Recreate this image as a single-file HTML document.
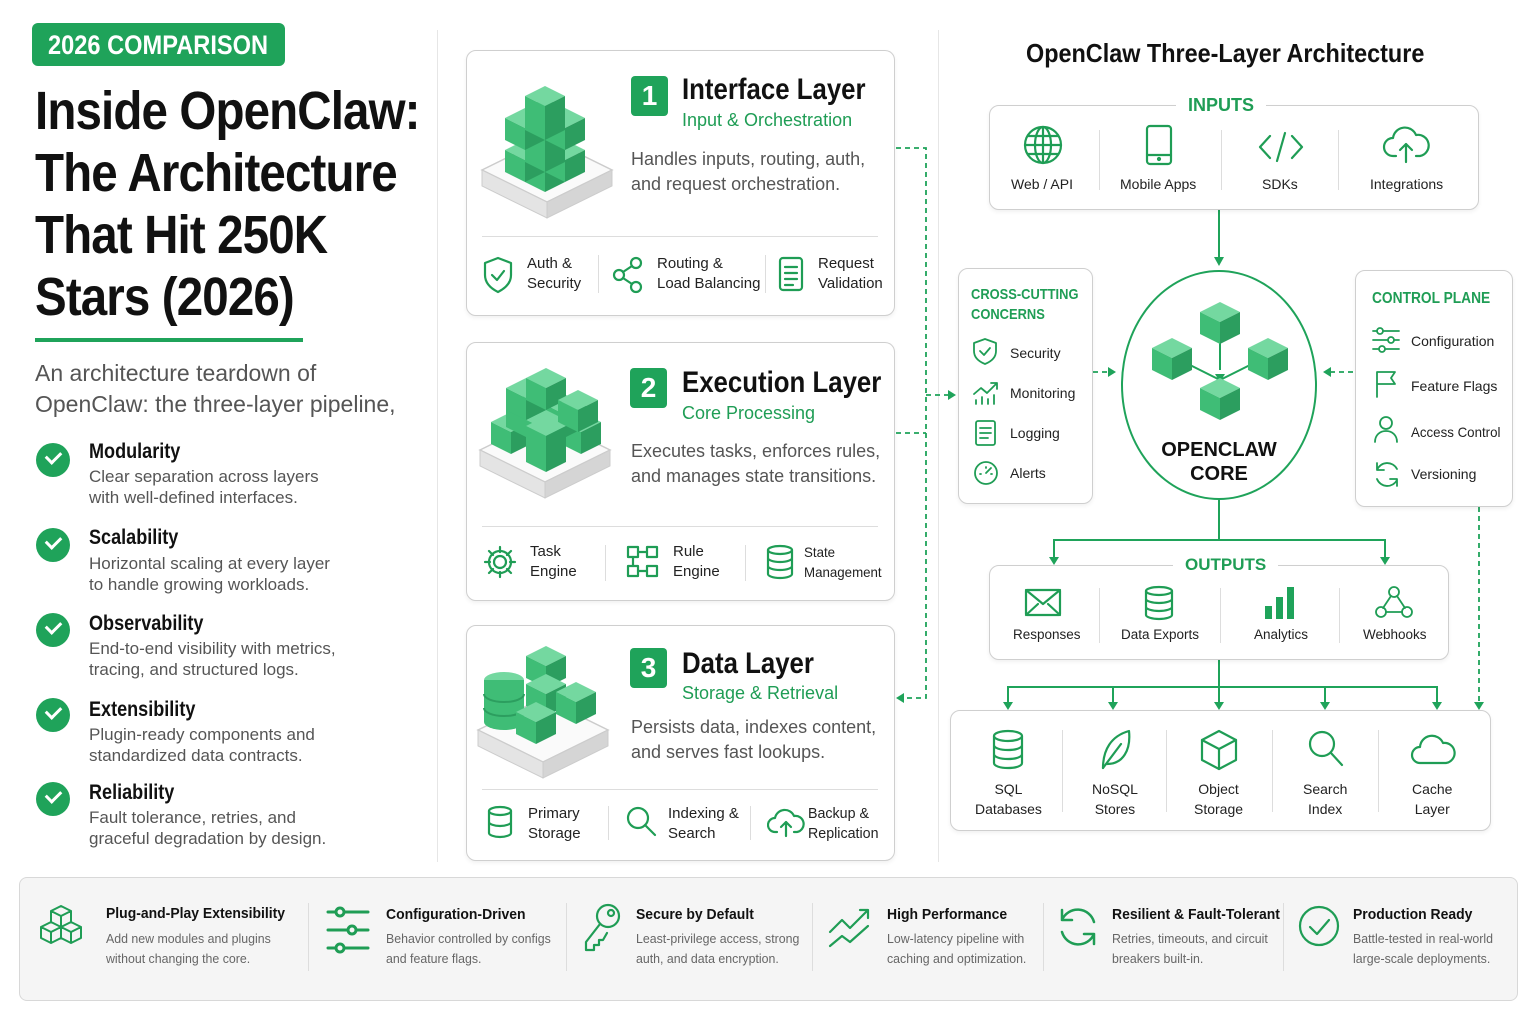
<!DOCTYPE html>
<html><head><meta charset="utf-8"><style>
*{margin:0;padding:0;box-sizing:border-box}
body{width:1536px;height:1024px;background:#fff;position:relative;overflow:hidden;font-family:"Liberation Sans",sans-serif;color:#111}
.t{position:absolute;white-space:nowrap}
.n{transform:scaleX(.86);transform-origin:0 0}
.g{color:#1f9d55}
.gr{color:#555}
.box{position:absolute;border:1.5px solid #cfcfcf;border-radius:10px;background:#fff;box-shadow:0 2px 4px rgba(0,0,0,.06)}
.ico{position:absolute;fill:none;stroke:#1f9d55;stroke-width:2.2;stroke-linecap:round;stroke-linejoin:round}
.sep{position:absolute;width:1px;background:#ddd}
.num{position:absolute;width:37px;height:40px;background:#1fa35a;border-radius:4px;color:#fff;font-weight:bold;font-size:28px;text-align:center;line-height:40px}
.ct{font-weight:bold;font-size:30px}
.cs{font-size:18px;color:#1f9d55}
.cd{font-size:18px;color:#555;line-height:25px}
.f{font-size:15px;color:#222;line-height:20px}
.chk{position:absolute;width:34px;height:34px;border-radius:50%;background:#1fa35a}
.chk:after{content:"";position:absolute;left:10px;top:8px;width:12px;height:7px;border-left:3.5px solid #fff;border-bottom:3.5px solid #fff;transform:rotate(-45deg)}
.kt{font-weight:bold;font-size:21px}
.kd{font-size:17px;color:#555;line-height:21px}
.sm{font-size:14px;color:#222}
.bt{font-weight:bold;font-size:15px;transform:scaleX(.93);transform-origin:0 0}
.bd{font-size:13px;color:#666;line-height:20px;transform:scaleX(.95);transform-origin:0 0}
</style></head><body>

<svg width="0" height="0" style="position:absolute"><defs>
<g id="cube"><polygon points="0,0 20,-10 40,0 20,10" fill="#74d8a0"/><polygon points="0,0 20,10 20,32 0,22" fill="#3fbd76"/><polygon points="20,10 40,0 40,22 20,32" fill="#2c9e5f"/></g>
<g id="plat"><polygon points="0,40 65,8 130,40 65,72" fill="#fafafa" stroke="#ccc" stroke-width="1.5"/><polygon points="0,40 65,72 65,88 0,56" fill="#e4e4e4" stroke="#ccc"/><polygon points="65,72 130,40 130,56 65,88" fill="#d5d5d5" stroke="#ccc"/></g>
</defs></svg>

<!-- left column -->
<div style="position:absolute;left:32px;top:23px;width:253px;height:43px;background:#1fa35a;border-radius:6px"></div>
<div class="t n" style="left:48px;top:30px;color:#fff;font-weight:bold;font-size:27px;transform:scaleX(.875)">2026 COMPARISON</div>
<div class="t n" style="left:35px;top:80px;font-weight:bold;font-size:54px;line-height:62px;letter-spacing:-1px;transform:scaleX(.88)">Inside OpenClaw:<br>The Architecture<br>That Hit 250K<br>Stars (2026)</div>
<div style="position:absolute;left:35px;top:338px;width:268px;height:4px;background:#1fa35a"></div>
<div class="t gr" style="left:35px;top:358px;font-size:23px;line-height:31px">An architecture teardown of<br>OpenClaw: the three-layer pipeline,</div>

<div class="chk" style="left:36px;top:443px"></div>
<div class="t kt n" style="left:89px;top:440px">Modularity</div>
<div class="t kd" style="left:89px;top:466px">Clear separation across layers<br>with well-defined interfaces.</div>
<div class="chk" style="left:36px;top:528px"></div>
<div class="t kt n" style="left:89px;top:526px">Scalability</div>
<div class="t kd" style="left:89px;top:553px">Horizontal scaling at every layer<br>to handle growing workloads.</div>
<div class="chk" style="left:36px;top:613px"></div>
<div class="t kt n" style="left:89px;top:612px">Observability</div>
<div class="t kd" style="left:89px;top:638px">End-to-end visibility with metrics,<br>tracing, and structured logs.</div>
<div class="chk" style="left:36px;top:698px"></div>
<div class="t kt n" style="left:89px;top:698px">Extensibility</div>
<div class="t kd" style="left:89px;top:724px">Plugin-ready components and<br>standardized data contracts.</div>
<div class="chk" style="left:36px;top:782px"></div>
<div class="t kt n" style="left:89px;top:781px">Reliability</div>
<div class="t kd" style="left:89px;top:807px">Fault tolerance, retries, and<br>graceful degradation by design.</div>

<div class="sep" style="left:437px;top:30px;height:832px;background:#e6e6e6"></div>
<div class="sep" style="left:938px;top:30px;height:832px;background:#e6e6e6"></div>

<!-- Card 1 -->
<div class="box" style="left:466px;top:50px;width:429px;height:266px"></div>
<svg style="position:absolute;left:480px;top:80px" width="140" height="150">
<use href="#plat" x="2" y="50"/>
<use href="#cube" x="45" y="80"/><use href="#cube" x="25" y="70"/><use href="#cube" x="65" y="70"/><use href="#cube" x="45" y="60"/>
<use href="#cube" x="45" y="48"/><use href="#cube" x="25" y="38"/><use href="#cube" x="65" y="38"/><use href="#cube" x="45" y="28"/><use href="#cube" x="45" y="16"/>
</svg>
<div class="num" style="left:631px;top:76px">1</div>
<div class="t ct n" style="left:682px;top:73px">Interface Layer</div>
<div class="t cs" style="left:682px;top:110px">Input &amp; Orchestration</div>
<div class="t cd" style="left:631px;top:147px">Handles inputs, routing, auth,<br>and request orchestration.</div>
<div class="sep" style="left:482px;top:236px;width:396px;height:1px"></div>
<svg class="ico" style="left:482px;top:255px" width="32" height="40"><path d="M16 3 L29 8 V20 C29 29 22 34 16 37 C10 34 3 29 3 20 V8Z"/><path d="M10 20 L15 25 L22 16"/></svg>
<div class="t f" style="left:527px;top:254px">Auth &amp;<br>Security</div>
<div class="sep" style="left:598px;top:255px;height:38px"></div>
<svg class="ico" style="left:612px;top:255px" width="34" height="40"><circle cx="7" cy="20" r="5"/><circle cx="24" cy="8" r="5"/><circle cx="24" cy="32" r="5"/><path d="M11 17 L20 11 M11 23 L20 29"/></svg>
<div class="t f" style="left:657px;top:254px">Routing &amp;<br>Load Balancing</div>
<div class="sep" style="left:765px;top:255px;height:38px"></div>
<svg class="ico" style="left:777px;top:255px" width="30" height="40"><rect x="3" y="3" width="22" height="32" rx="3"/><path d="M8 12h12M8 18h12M8 24h12M8 30h8"/></svg>
<div class="t f" style="left:818px;top:254px">Request<br>Validation</div>

<!-- Card 2 -->
<div class="box" style="left:466px;top:342px;width:429px;height:259px"></div>
<svg style="position:absolute;left:476px;top:360px" width="145" height="150">
<use href="#plat" x="4" y="50"/>
<use href="#cube" x="50" y="80"/><use href="#cube" x="15" y="62"/><use href="#cube" x="85" y="62"/><use href="#cube" x="30" y="45"/><use href="#cube" x="70" y="45"/><use href="#cube" x="50" y="60"/>
<use href="#cube" x="30" y="28"/><use href="#cube" x="50" y="18"/><use href="#cube" x="82" y="40"/><use href="#cube" x="50" y="66"/>
</svg>
<div class="num" style="left:630px;top:368px">2</div>
<div class="t ct n" style="left:682px;top:366px">Execution Layer</div>
<div class="t cs" style="left:682px;top:403px">Core Processing</div>
<div class="t cd" style="left:631px;top:439px">Executes tasks, enforces rules,<br>and manages state transitions.</div>
<div class="sep" style="left:482px;top:526px;width:396px;height:1px"></div>
<svg class="ico" style="left:482px;top:544px" width="36" height="36"><circle cx="18" cy="18" r="6"/><path d="M18 3v5M18 28v5M3 18h5M28 18h5M7 7l4 4M25 25l4 4M29 7l-4 4M7 29l4-4"/><circle cx="18" cy="18" r="11"/></svg>
<div class="t f" style="left:530px;top:542px">Task<br>Engine</div>
<div class="sep" style="left:605px;top:545px;height:36px"></div>
<svg class="ico" style="left:625px;top:544px" width="36" height="36"><rect x="3" y="3" width="10" height="10"/><rect x="22" y="3" width="10" height="10"/><rect x="3" y="22" width="10" height="10"/><rect x="22" y="22" width="10" height="10"/><path d="M13 8h9M8 13v9M13 27h9"/></svg>
<div class="t f" style="left:673px;top:542px">Rule<br>Engine</div>
<div class="sep" style="left:745px;top:545px;height:36px"></div>
<svg class="ico" style="left:764px;top:543px" width="32" height="38"><ellipse cx="16" cy="7" rx="12" ry="4"/><path d="M4 7v24c0 2 5 4 12 4s12-2 12-4V7M4 15c0 2 5 4 12 4s12-2 12-4M4 23c0 2 5 4 12 4s12-2 12-4"/></svg>
<div class="t f" style="left:804px;top:542px;font-size:14px;transform:scaleX(.95);transform-origin:0 0">State<br>Management</div>

<!-- Card 3 -->
<div class="box" style="left:466px;top:625px;width:429px;height:236px"></div>
<svg style="position:absolute;left:476px;top:640px" width="145" height="150">
<use href="#plat" x="2" y="50"/>
<ellipse cx="28" cy="40" rx="20" ry="8" fill="#74d8a0"/><rect x="8" y="40" width="40" height="42" fill="#3fbd76"/><ellipse cx="28" cy="82" rx="20" ry="8" fill="#3fbd76"/><path d="M8 54a20 8 0 0 0 40 0M8 68a20 8 0 0 0 40 0" stroke="#2c9e5f" fill="none" stroke-width="2"/>
<use href="#cube" x="50" y="16"/><use href="#cube" x="50" y="44"/><use href="#cube" x="80" y="52"/><use href="#cube" x="40" y="72"/>
</svg>
<div class="num" style="left:630px;top:648px">3</div>
<div class="t ct n" style="left:682px;top:647px">Data Layer</div>
<div class="t cs" style="left:682px;top:683px">Storage &amp; Retrieval</div>
<div class="t cd" style="left:631px;top:715px">Persists data, indexes content,<br>and serves fast lookups.</div>
<div class="sep" style="left:482px;top:789px;width:396px;height:1px"></div>
<svg class="ico" style="left:485px;top:804px" width="30" height="36"><ellipse cx="15" cy="7" rx="11" ry="4"/><path d="M4 7v22c0 2 5 4 11 4s11-2 11-4V7M4 18c0 2 5 4 11 4s11-2 11-4"/></svg>
<div class="t f" style="left:528px;top:804px">Primary<br>Storage</div>
<div class="sep" style="left:608px;top:806px;height:34px"></div>
<svg class="ico" style="left:624px;top:804px" width="34" height="36"><circle cx="14" cy="14" r="10"/><path d="M21 21l10 10"/></svg>
<div class="t f" style="left:668px;top:804px">Indexing &amp;<br>Search</div>
<div class="sep" style="left:750px;top:806px;height:34px"></div>
<svg class="ico" style="left:767px;top:806px" width="38" height="34"><path d="M10 26H8a7 7 0 0 1 0-14 10 10 0 0 1 19-2 7 7 0 0 1 3 16h-3"/><path d="M19 30V16M14 21l5-5 5 5"/></svg>
<div class="t f" style="left:808px;top:804px;transform:scaleX(.95);transform-origin:0 0">Backup &amp;<br>Replication</div>

<!-- connectors -->
<svg style="position:absolute;left:0;top:0" width="1536" height="1024">
<g fill="none" stroke="#1fa35a" stroke-width="1.8" stroke-dasharray="5,4">
<path d="M896 148H926V698H903"/><path d="M896 433H926"/><path d="M926 395H950"/>
<path d="M1093 372H1110"/><path d="M1353 372H1330"/><path d="M1479 507V702"/>
</g>
<g fill="#1fa35a">
<path d="M956 395l-8-5v10z"/><path d="M896 698l8-5v10z"/><path d="M1116 372l-8-5v10z"/><path d="M1323 372l8-5v10z"/><path d="M1479 710l-5-8h10z"/>
</g>
<g fill="none" stroke="#1fa35a" stroke-width="2">
<path d="M1219 210V258"/><path d="M1219 500V540M1054 558V540H1385V558"/><path d="M1219 660V687M1008 703V687H1437V703M1113 687V703M1325 687V703M1219 687V703"/>
</g>
<g fill="#1fa35a">
<path d="M1219 266l-5-9h10z"/><path d="M1054 565l-5-8h10z"/><path d="M1385 565l-5-8h10z"/>
<path d="M1008 710l-5-8h10z"/><path d="M1113 710l-5-8h10z"/><path d="M1219 710l-5-8h10z"/><path d="M1325 710l-5-8h10z"/><path d="M1437 710l-5-8h10z"/>
</g>
</svg>

<!-- right -->
<div class="t n" style="left:1026px;top:38px;font-weight:bold;font-size:26px;transform:scaleX(.9)">OpenClaw Three-Layer Architecture</div>
<div class="box" style="left:989px;top:105px;width:490px;height:105px"></div>
<div class="t g" style="left:1176px;top:95px;font-weight:bold;font-size:18px;background:#fff;padding:0 12px">INPUTS</div>
<svg class="ico" style="left:1022px;top:124px" width="42" height="42"><circle cx="21" cy="21" r="18"/><ellipse cx="21" cy="21" rx="8" ry="18"/><path d="M3 21h36M6 12h30M6 30h30M21 3v36"/></svg>
<div class="t sm" style="left:1011px;top:176px">Web / API</div>
<div class="sep" style="left:1099px;top:130px;height:60px"></div>
<svg class="ico" style="left:1144px;top:124px" width="32" height="42"><rect x="3" y="2" width="24" height="38" rx="3"/><path d="M3 31h24"/><circle cx="15" cy="35" r="1"/></svg>
<div class="t sm" style="left:1120px;top:176px">Mobile Apps</div>
<div class="sep" style="left:1221px;top:130px;height:60px"></div>
<svg class="ico" style="left:1258px;top:130px" width="46" height="34"><path d="M12 6L2 17l10 11M34 6l10 11-10 11M27 3L19 31"/></svg>
<div class="t sm" style="left:1262px;top:176px">SDKs</div>
<div class="sep" style="left:1338px;top:130px;height:60px"></div>
<svg class="ico" style="left:1382px;top:126px" width="50" height="40"><path d="M14 30H11a9 9 0 0 1 0-18 12 12 0 0 1 23-3 9 9 0 0 1 4 21h-4"/><path d="M24 36V18M18 24l6-6 6 6"/></svg>
<div class="t sm" style="left:1370px;top:176px">Integrations</div>

<!-- core -->
<div style="position:absolute;left:1121px;top:270px;width:196px;height:230px;border:2.5px solid #1fa35a;border-radius:50%;background:#fff"></div>
<svg style="position:absolute;left:1140px;top:290px" width="160" height="150">
<g stroke="#1fa35a" stroke-width="2" fill="none"><path d="M80 50V80M50 75L80 90M110 75L80 90"/></g>
<path d="M80 92l-5-8h10z" fill="#1fa35a"/>
<use href="#cube" x="60" y="22"/><use href="#cube" x="12" y="58"/><use href="#cube" x="108" y="58"/><use href="#cube" x="60" y="98"/>
</svg>
<div class="t" style="left:1121px;top:438px;width:196px;text-align:center;font-weight:bold;font-size:20px;line-height:24px">OPENCLAW<br>CORE</div>

<!-- cross cutting -->
<div class="box" style="left:958px;top:268px;width:135px;height:236px"></div>
<div class="t g n" style="left:971px;top:285px;font-weight:bold;font-size:15px;line-height:20px">CROSS-CUTTING<br>CONCERNS</div>
<svg class="ico" style="left:972px;top:337px;stroke-width:1.8" width="28" height="30"><path d="M13 2L24 6V14C24 21 18 25 13 27 8 25 2 21 2 14V6Z"/><path d="M8 14l4 4 6-7"/></svg>
<div class="t sm" style="left:1010px;top:345px">Security</div>
<svg class="ico" style="left:972px;top:380px;stroke-width:1.8" width="28" height="26"><path d="M2 14l7-6 6 5 10-10M19 3h6v6M4 24v-4M10 24v-7M16 24v-5M22 24v-9"/></svg>
<div class="t sm" style="left:1010px;top:385px">Monitoring</div>
<svg class="ico" style="left:974px;top:419px;stroke-width:1.8" width="24" height="28"><rect x="2" y="2" width="19" height="24" rx="2"/><path d="M6 9h11M6 14h11M6 19h8"/></svg>
<div class="t sm" style="left:1010px;top:425px">Logging</div>
<svg class="ico" style="left:972px;top:459px;stroke-width:1.8" width="28" height="26"><circle cx="14" cy="14" r="11"/><path d="M14 14l5-5M8 15h1M19 15h1M14 8v1"/></svg>
<div class="t sm" style="left:1010px;top:465px">Alerts</div>

<!-- control plane -->
<div class="box" style="left:1355px;top:270px;width:158px;height:237px"></div>
<div class="t g n" style="left:1372px;top:290px;font-weight:bold;font-size:16px">CONTROL PLANE</div>
<svg class="ico" style="left:1371px;top:326px;stroke-width:1.8" width="30" height="28"><path d="M2 5h26M2 14h26M2 23h26"/><circle cx="9" cy="5" r="3" fill="#fff"/><circle cx="20" cy="14" r="3" fill="#fff"/><circle cx="11" cy="23" r="3" fill="#fff"/></svg>
<div class="t sm" style="left:1411px;top:333px">Configuration</div>
<svg class="ico" style="left:1373px;top:369px;stroke-width:1.8" width="28" height="30"><path d="M4 28V3h18l-4 6 4 6H4"/></svg>
<div class="t sm" style="left:1411px;top:378px">Feature Flags</div>
<svg class="ico" style="left:1373px;top:414px;stroke-width:1.8" width="28" height="30"><circle cx="13" cy="9" r="6"/><path d="M2 28c0-7 5-11 11-11s11 4 11 11"/></svg>
<div class="t sm" style="left:1411px;top:424px;transform:scaleX(.95);transform-origin:0 0">Access Control</div>
<svg class="ico" style="left:1372px;top:459px;stroke-width:1.8" width="30" height="30"><path d="M25 10A11 11 0 0 0 5 11M5 20a11 11 0 0 0 20 1M5 4v7h7M25 27v-7h-7"/></svg>
<div class="t sm" style="left:1411px;top:466px">Versioning</div>

<!-- outputs -->
<div class="box" style="left:989px;top:565px;width:460px;height:95px"></div>
<div class="t g" style="left:1173px;top:555px;font-weight:bold;font-size:17px;background:#fff;padding:0 12px">OUTPUTS</div>
<svg class="ico" style="left:1024px;top:587px" width="40" height="32"><rect x="2" y="3" width="34" height="25" rx="1"/><path d="M2 3l17 14 17-14M2 28l12-11M36 28L24 17"/></svg>
<div class="t sm" style="left:1013px;top:627px;font-size:13.5px">Responses</div>
<div class="sep" style="left:1099px;top:588px;height:55px"></div>
<svg class="ico" style="left:1143px;top:584px" width="34" height="38"><ellipse cx="16" cy="7" rx="13" ry="4"/><path d="M3 7v24c0 2 6 4 13 4s13-2 13-4V7M3 15c0 2 6 4 13 4s13-2 13-4M3 23c0 2 6 4 13 4s13-2 13-4"/></svg>
<div class="t sm" style="left:1121px;top:627px;font-size:13.5px">Data Exports</div>
<div class="sep" style="left:1220px;top:588px;height:55px"></div>
<svg style="position:absolute;left:1264px;top:586px" width="32" height="34"><rect x="1" y="20" width="7" height="13" fill="#1fa35a"/><rect x="12" y="11" width="7" height="22" fill="#1fa35a"/><rect x="23" y="1" width="7" height="32" fill="#1fa35a"/></svg>
<div class="t sm" style="left:1254px;top:627px;font-size:13.5px">Analytics</div>
<div class="sep" style="left:1339px;top:588px;height:55px"></div>
<svg class="ico" style="left:1374px;top:584px;stroke-width:1.8" width="40" height="36"><circle cx="20" cy="8" r="5"/><circle cx="7" cy="28" r="5"/><circle cx="33" cy="28" r="5"/><path d="M17 12l-8 12M23 12l8 12M12 28h16"/></svg>
<div class="t sm" style="left:1363px;top:627px;font-size:13.5px">Webhooks</div>

<!-- storage -->
<div class="box" style="left:950px;top:710px;width:541px;height:121px"></div>
<svg class="ico" style="left:991px;top:728px" width="36" height="44"><ellipse cx="17" cy="8" rx="14" ry="5"/><path d="M3 8v27c0 3 6 5 14 5s14-2 14-5V8M3 17c0 3 6 5 14 5s14-2 14-5M3 26c0 3 6 5 14 5s14-2 14-5"/></svg>
<div class="t sm" style="left:975px;top:779px;text-align:center;line-height:20px">SQL<br>Databases</div>
<div class="sep" style="left:1062px;top:730px;height:82px"></div>
<svg class="ico" style="left:1097px;top:728px" width="36" height="44"><path d="M6 40C6 22 14 8 32 3 34 22 26 36 10 36"/><path d="M6 40l18-24"/></svg>
<div class="t sm" style="left:1092px;top:779px;text-align:center;line-height:20px">NoSQL<br>Stores</div>
<div class="sep" style="left:1166px;top:730px;height:82px"></div>
<svg class="ico" style="left:1200px;top:728px" width="40" height="44"><path d="M19 3l17 9v20l-17 9-17-9V12z"/><path d="M2 12l17 9 17-9M19 21v20"/></svg>
<div class="t sm" style="left:1194px;top:779px;text-align:center;line-height:20px">Object<br>Storage</div>
<div class="sep" style="left:1272px;top:730px;height:82px"></div>
<svg class="ico" style="left:1306px;top:728px" width="40" height="44"><circle cx="16" cy="16" r="12"/><path d="M25 25l11 12"/></svg>
<div class="t sm" style="left:1303px;top:779px;text-align:center;line-height:20px">Search<br>Index</div>
<div class="sep" style="left:1378px;top:730px;height:82px"></div>
<svg class="ico" style="left:1410px;top:730px" width="48" height="38"><path d="M12 33H10a8 8 0 0 1 0-16 12 12 0 0 1 23-4 9 9 0 0 1 3 20z"/></svg>
<div class="t sm" style="left:1412px;top:779px;text-align:center;line-height:20px">Cache<br>Layer</div>

<!-- bottom strip -->
<div style="position:absolute;left:19px;top:877px;width:1499px;height:124px;background:#f5f5f5;border:1.5px solid #d8d8d8;border-radius:8px"></div>
<svg class="ico" style="left:40px;top:902px;stroke-width:2" width="56" height="58"><path d="M21 4l10 5v11l-10 5-10-5V9zM11 9l10 5 10-5M21 14v11M11 20l10 5v11l-10 5-10-5V25zM1 25l10 5 10-5M11 30v11M31 20l10 5v11l-10 5-10-5V25zM21 25l10 5 10-5M31 30v11"/></svg>
<div class="t bt" style="left:106px;top:905px">Plug-and-Play Extensibility</div>
<div class="t bd" style="left:106px;top:929px">Add new modules and plugins<br>without changing the core.</div>
<div class="sep" style="left:308px;top:903px;height:68px"></div>
<svg class="ico" style="left:326px;top:904px;stroke-width:3" width="46" height="50"><path d="M2 8h8M18 8h24M2 26h20M30 26h12M2 44h8M18 44h24"/><circle cx="14" cy="8" r="4"/><circle cx="26" cy="26" r="4"/><circle cx="14" cy="44" r="4"/></svg>
<div class="t bt" style="left:386px;top:906px">Configuration-Driven</div>
<div class="t bd" style="left:386px;top:929px">Behavior controlled by configs<br>and feature flags.</div>
<div class="sep" style="left:566px;top:903px;height:68px"></div>
<svg class="ico" style="left:582px;top:902px" width="42" height="52"><circle cx="26" cy="14" r="11"/><circle cx="29" cy="11" r="3"/><path d="M18 22L4 40v8h8v-5h5v-5h4l4-7"/></svg>
<div class="t bt" style="left:636px;top:906px">Secure by Default</div>
<div class="t bd" style="left:636px;top:929px">Least-privilege access, strong<br>auth, and data encryption.</div>
<div class="sep" style="left:812px;top:903px;height:68px"></div>
<svg class="ico" style="left:828px;top:906px" width="46" height="44"><path d="M2 26l12-12 8 8 18-18M32 4h8v8M2 40l12-10 8 6 18-16"/></svg>
<div class="t bt" style="left:887px;top:906px">High Performance</div>
<div class="t bd" style="left:887px;top:929px">Low-latency pipeline with<br>caching and optimization.</div>
<div class="sep" style="left:1043px;top:903px;height:68px"></div>
<svg class="ico" style="left:1056px;top:904px;stroke-width:2.5" width="44" height="46"><path d="M38 18A17 17 0 0 0 6 16M6 28a17 17 0 0 0 32 2M6 6v10h10M38 40V30H28"/></svg>
<div class="t bt" style="left:1112px;top:906px">Resilient &amp; Fault-Tolerant</div>
<div class="t bd" style="left:1112px;top:929px">Retries, timeouts, and circuit<br>breakers built-in.</div>
<div class="sep" style="left:1283px;top:903px;height:68px"></div>
<svg class="ico" style="left:1297px;top:904px" width="46" height="46"><circle cx="22" cy="22" r="19"/><path d="M13 23l7 7 12-14"/></svg>
<div class="t bt" style="left:1353px;top:906px">Production Ready</div>
<div class="t bd" style="left:1353px;top:929px">Battle-tested in real-world<br>large-scale deployments.</div>

</body></html>
